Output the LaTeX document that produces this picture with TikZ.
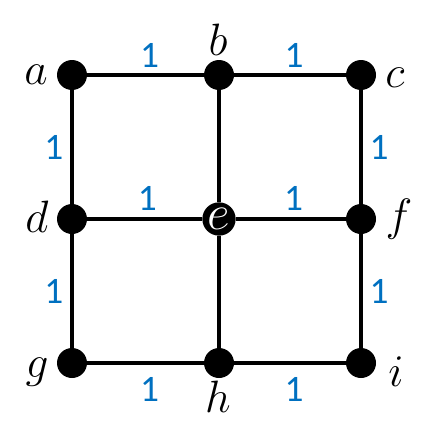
\RequirePackage{fix-cm}
\documentclass[tikz,border=0pt]{standalone}
\usepackage{fontspec}
\newfontfamily\wtfont{Carlito}
\usepackage{xcolor}
\definecolor{wtblue}{RGB}{0,112,192}

\begin{document}
\begin{tikzpicture}[x=0.75pt, y=-0.75pt,
    vtx/.style={circle, fill=black, minimum size=22.5pt, inner sep=0pt},
    vlab/.style={inner sep=0pt, font=\fontsize{34}{36}\selectfont},
    wt/.style={text=wtblue, inner sep=0pt, font=\wtfont\fontsize{28}{30}\selectfont},
    edge/.style={line width=3pt}]
  \useasboundingbox (0,0) rectangle (437,439);
  % Vertices
  \node[vtx] (a) at (72,75) {};
  \node[vtx] (b) at (219,75) {};
  \node[vtx] (c) at (361,75) {};
  \node[vtx] (d) at (72,219) {};
  \node[vtx, minimum size=25pt, text=white, font=\fontsize{37}{39}\selectfont] (e) at (219,219) {$e$};
  \node[vtx] (f) at (361,219) {};
  \node[vtx] (g) at (72,363) {};
  \node[vtx] (h) at (219,363) {};
  \node[vtx] (i) at (361,363) {};
  % Vertex labels
  \node[vlab] (la) at (36,75) {$a$};
  \node[vlab] (lb) at (218,40) {$b$};
  \node[vlab] (lc) at (395,78) {$c$};
  \node[vlab] (ld) at (37,217) {$d$};
  \node[vlab] (lf) at (399,219) {$f$};
  \node[vlab] (lg) at (37,372) {$g$};
  \node[vlab] (lh) at (218,397) {$h$};
  \node[vlab] (li) at (396,372) {$i$};
  % Edges with weights
  \draw[edge] (a) -- node[wt, above=4pt, xshift=3pt] (wab) {1} (b);
  \draw[edge] (b) -- node[wt, above=4pt, xshift=3pt] (wbc) {1} (c);
  \draw[edge] (d) -- node[wt, above=5pt, xshift=2pt] (wde) {1} (e);
  \draw[edge] (e) -- node[wt, above=5pt, xshift=2pt] (wef) {1} (f);
  \draw[edge] (g) -- node[wt, below=9pt, xshift=3pt] (wgh) {1} (h);
  \draw[edge] (h) -- node[wt, below=9pt, xshift=3pt] (whi) {1} (i);
  \draw[edge] (a) -- node[wt, left=5pt] (wad) {1} (d);
  \draw[edge] (d) -- node[wt, left=5pt] (wdg) {1} (g);
  \draw[edge] (c) -- node[wt, right=5pt] (wcf) {1} (f);
  \draw[edge] (f) -- node[wt, right=5pt] (wfi) {1} (i);
  \draw[edge] (b) -- (e);
  \draw[edge] (e) -- (h);
\end{tikzpicture}
\end{document}
